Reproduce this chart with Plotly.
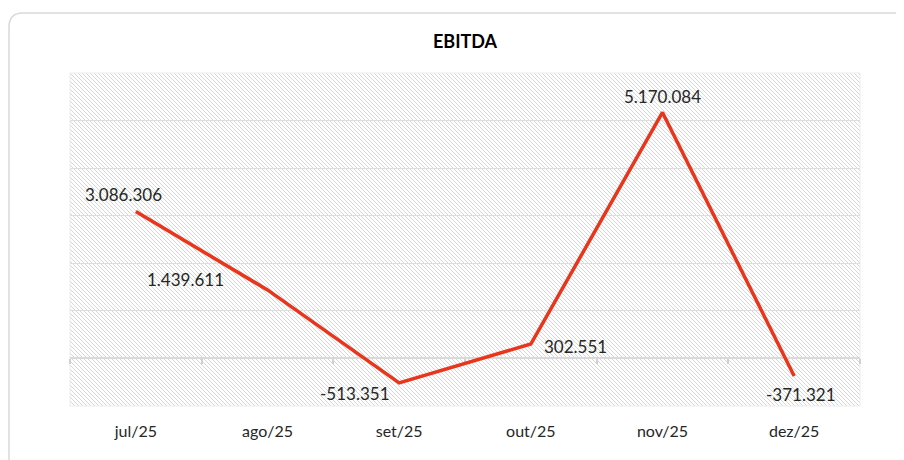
import base64
import plotly.graph_objects as go

# ---- data ----
months = ["jul/25", "ago/25", "set/25", "out/25", "nov/25", "dez/25"]
ebitda = [3086306, 1439611, -513351, 302551, 5170084, -371321]
title_text = "EBITDA"

# label offsets (px) relative to each point (style only)
label_dx = [-12, -82, -44, 45, 0, 7]
label_dy = [17, 10, -11, -2, 16, -18]

PAGE_OFF = 8  # default body margin of the html page
W, H = 904 - PAGE_OFF, 460 - PAGE_OFF
PL, PR, PT, PB = 70, 860, 73, 406  # plot area in page pixels
PW, PH = PR - PL, PB - PT

def fmt(v):
    return f"{v:,}".replace(",", ".")

# hatched background as an SVG pattern image
svg = f'''<svg xmlns="http://www.w3.org/2000/svg" width="{PW}" height="{PH}" viewBox="0 0 {PW} {PH}" preserveAspectRatio="none">
<defs><pattern id="h" patternUnits="userSpaceOnUse" width="4" height="4">
<path d="M-1,-1 L5,5 M-1,3 L1,5 M3,-1 L5,1" stroke="#d6d6d6" stroke-width="1"/></pattern></defs>
<rect width="{PW}" height="{PH}" fill="#ffffff"/>
<rect width="{PW}" height="{PH}" fill="url(#h)"/></svg>'''
img_src = "data:image/svg+xml;base64," + base64.b64encode(svg.encode()).decode()

xidx = list(range(len(months)))

fig = go.Figure()
# invisible trace for the main (labelled) x axis
fig.add_trace(go.Scatter(
    x=xidx, y=ebitda, mode="markers",
    marker=dict(opacity=0), hoverinfo="skip", showlegend=False,
))
# the line, on the overlaid axis that draws the zero line (below traces)
fig.add_trace(go.Scatter(
    x=xidx, y=ebitda, mode="lines", xaxis="x2",
    line=dict(color="#E8351B", width=3.5),
    hoverinfo="skip", showlegend=False,
))

for i, (m, v) in enumerate(zip(months, ebitda)):
    fig.add_annotation(
        x=i, y=v, text=fmt(v), showarrow=False,
        xshift=label_dx[i], yshift=label_dy[i],
        font=dict(family="Lato, Carlito, sans-serif", size=17, color="#262626"),
    )

def px2paper(px, py):
    return (px - PL) / PW, (PB - py) / PH

# outer rounded container border
x0, y0 = px2paper(9, 480)
x1, y1 = px2paper(9, 27)
qx, qy = px2paper(9, 13)
x2, y2 = px2paper(23, 13)
x3, y3 = px2paper(920, 13)
fig.add_shape(type="path", xref="paper", yref="paper",
              path=f"M {x0},{y0} L {x1},{y1} Q {qx},{qy} {x2},{y2} L {x3},{y3}",
              line=dict(color="#d9d9d9", width=1.5), layer="above")
# plot-area border
fig.add_shape(type="rect", xref="paper", yref="paper", x0=0, y0=0, x1=1, y1=1,
              line=dict(color="#ececec", width=1), layer="below")

ymin, ymax = -1e6, 6e6

fig.update_layout(
    width=W, height=H,
    margin=dict(l=PL - PAGE_OFF, r=904 - PR, t=PT - PAGE_OFF, b=460 - PB),
    paper_bgcolor="white", plot_bgcolor="white",
    title=dict(text=f"<b>{title_text}</b>", x=(465 - PAGE_OFF) / W, xanchor="center",
               y=1 - (42 - PAGE_OFF) / H, yanchor="middle",
               font=dict(family="Lato, Carlito, sans-serif", size=18, color="#000000")),
    images=[dict(source=img_src, xref="paper", yref="paper", x=0, y=1,
                 sizex=1, sizey=1, sizing="stretch", layer="below")],
    xaxis=dict(
        tickmode="array", tickvals=xidx, ticktext=months,
        range=[-0.5, len(months) - 0.5],
        showgrid=False, showline=False, zeroline=False, ticks="",
        tickfont=dict(family="Lato, Carlito, sans-serif", size=16, color="#262626"),
        ticklabelstandoff=14,
    ),
    xaxis2=dict(
        overlaying="x", anchor="free", position=(0 - ymin) / (ymax - ymin),
        range=[-0.5, len(months) - 0.5], layer="below traces",
        tickmode="array", tickvals=[i - 0.5 for i in range(len(months) + 1)],
        ticks="outside", ticklen=5, tickcolor="#d0d0d0", tickwidth=1.5,
        showline=True, linecolor="#d9d9d9", linewidth=1.5,
        showgrid=False, zeroline=False, showticklabels=False,
    ),
    yaxis=dict(
        range=[ymin, ymax], dtick=1e6, tick0=0,
        showgrid=True, gridcolor="#dedede", gridwidth=1,
        zeroline=False, showticklabels=False, showline=False, ticks="",
    ),
)

fig.write_html("out.html")
